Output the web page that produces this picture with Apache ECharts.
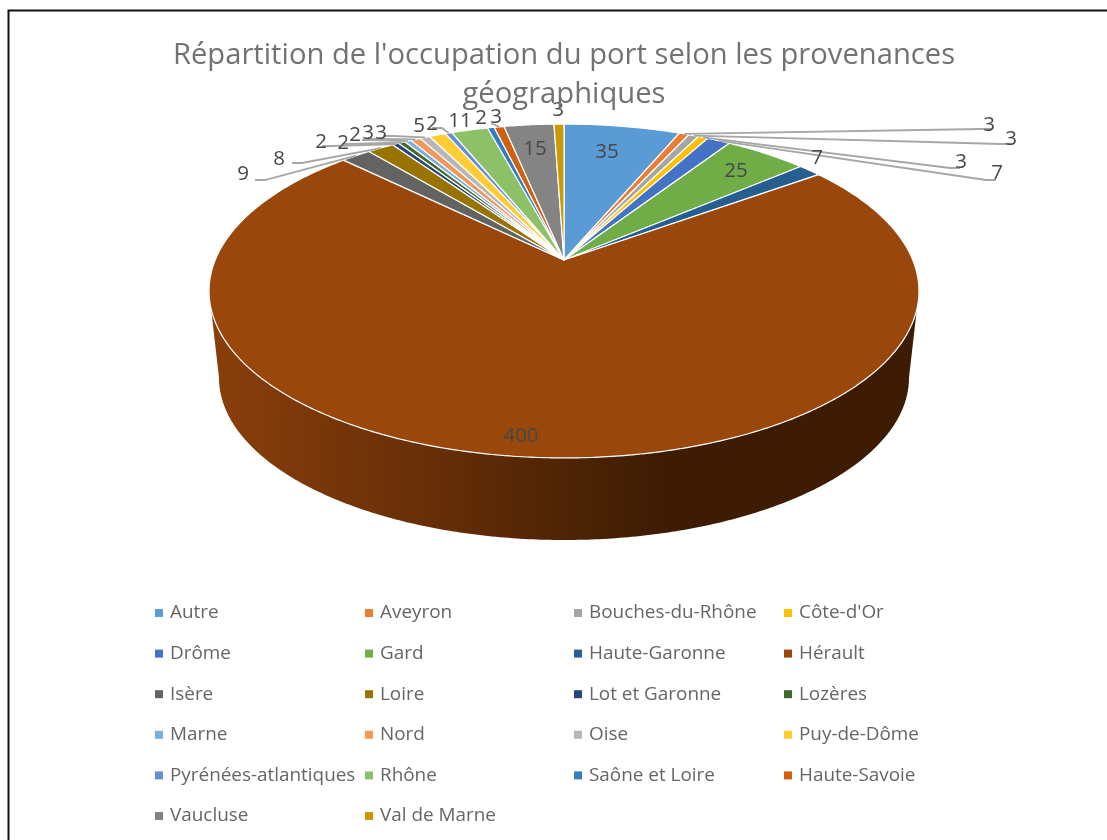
<!DOCTYPE html>
<html>
<head>
<meta charset="utf-8">
<title>Répartition de l'occupation du port</title>
<script src="https://cdn.jsdelivr.net/npm/echarts@6/dist/echarts.min.js"></script>
<style>
  html, body { margin: 0; padding: 0; background: #fff; }
  #main { width: 1107px; height: 840px; }
</style>
</head>
<body>
<div id="main"></div>
<script>
const categories = ["Autre", "Aveyron", "Bouches-du-Rhône", "Côte-d'Or", "Drôme", "Gard", "Haute-Garonne", "Hérault",
  "Isère", "Loire", "Lot et Garonne", "Lozères", "Marne", "Nord", "Oise", "Puy-de-Dôme",
  "Pyrénées-atlantiques", "Rhône", "Saône et Loire", "Haute-Savoie", "Vaucluse", "Val de Marne"];
const values = [35, 3, 3, 3, 7, 25, 7, 400, 9, 8, 2, 2, 2, 3, 3, 5, 2, 11, 2, 3, 15, 3];
const colors = ["#5B9BD5", "#ED7D31", "#A5A5A5", "#FFC000", "#4472C4", "#70AD47", "#255E91", "#9A470C",
  "#636363", "#997300", "#264478", "#43682B", "#7CAFDD", "#F1975A", "#B7B7B7", "#FFCD33",
  "#698ED0", "#8CC168", "#327DC2", "#D26012", "#848484", "#CC9A00"];

// label centre and leader elbow for each slice, same order as categories (no elbow = no leader)
const labelPlaces = [
  { x: 607, y: 151 }, { x: 989, y: 124, elbow: [982, 129] }, { x: 1011, y: 138, elbow: [1001, 144] },
  { x: 961, y: 161, elbow: [950, 168] }, { x: 997, y: 172, elbow: [986, 180] }, { x: 736, y: 170 },
  { x: 817, y: 157 }, { x: 521, y: 435 }, { x: 243, y: 173, elbow: [265, 180] }, { x: 279, y: 158, elbow: [302, 163] },
  { x: 321, y: 141, elbow: [332, 146] }, { x: 343, y: 142, elbow: [352, 144] }, { x: 355, y: 134, elbow: [372, 140] },
  { x: 368, y: 132, elbow: [380, 139] }, { x: 381, y: 132, elbow: [393, 136] }, { x: 419, y: 125 },
  { x: 432, y: 123, elbow: [442, 128] }, { x: 460, y: 120 }, { x: 481, y: 117 }, { x: 496, y: 116, elbow: [491, 123] },
  { x: 535, y: 148 }, { x: 558, y: 109 }
];

const legendColumns = [
  ["Autre", "Drôme", "Isère", "Marne", "Pyrénées-atlantiques", "Vaucluse"],
  ["Aveyron", "Gard", "Loire", "Nord", "Rhône", "Val de Marne"],
  ["Bouches-du-Rhône", "Haute-Garonne", "Lot et Garonne", "Oise", "Saône et Loire"],
  ["Côte-d'Or", "Hérault", "Lozères", "Puy-de-Dôme", "Haute-Savoie"]
];
const legendLeft = [155, 365, 574, 784];

const fontName = "'Open Sans', sans-serif";
const total = values.reduce((a, b) => a + b, 0);
const starts = [];
values.reduce((sum, v, i) => { starts[i] = sum; return sum + v; }, 0);

// perspective disc: apex (cx, cy), half axes rx / ry, tilt p
const topDisc = { cx: 564, cy: 260, rx: 348.8, ry: 161.2, p: 0.1856 };
const baseDisc = { cx: 564, cy: 347.6, rx: 339, ry: 156.7, p: 0.1856 };

function project(disc, angle) {
  const X = Math.sin(angle), Y = -Math.cos(angle);
  const w = 1 - disc.p * Y;
  return [disc.cx + disc.rx * X / w, disc.cy + disc.ry * Y / w];
}
function arc(disc, a0, a1) {
  const n = Math.max(2, Math.ceil(Math.abs(a1 - a0) / 0.01));
  const pts = [];
  for (let i = 0; i <= n; i++) pts.push(project(disc, a0 + (a1 - a0) * i / n));
  return pts;
}
function toAngle(v) { return v / total * Math.PI * 2; }

function renderSlice(params, api) {
  const start = api.value(0), v = api.value(1);
  const pts = [[topDisc.cx, topDisc.cy]].concat(arc(topDisc, toAngle(start), toAngle(start + v)));
  return {
    type: 'polygon',
    shape: { points: pts },
    style: { fill: api.style().fill, stroke: '#ffffff', lineWidth: 1.2, lineJoin: 'round' }
  };
}

// only the front of the rim shows, between the two tangent points of the disc
function renderWall() {
  const side = Math.asin(topDisc.p);
  const a0 = Math.PI / 2 + side, a1 = Math.PI * 1.5 - side;
  const pts = arc(topDisc, a0, a1).concat(arc(baseDisc, a1, a0));
  return {
    type: 'polygon',
    shape: { points: pts },
    style: {
      fill: new echarts.graphic.LinearGradient(0, 0, 1, 0, [
        { offset: 0, color: '#8A3F0B' },
        { offset: 0.26, color: '#6D3108' },
        { offset: 0.5, color: '#4F2405' },
        { offset: 0.64, color: '#3D1C03' },
        { offset: 1, color: '#3D1C03' }
      ])
    }
  };
}

function renderLabel(params, api) {
  const i = params.dataIndex;
  const place = labelPlaces[i];
  const children = [];
  if (place.elbow) {
    const rim = project(topDisc, toAngle(starts[i] + values[i] / 2));
    const pts = [place.elbow, rim];
    const dir = place.x < rim[0] ? -1 : 1;
    if (i !== 19) pts.unshift([place.elbow[0] + dir * 10, place.elbow[1]]);
    children.push({
      type: 'polyline',
      shape: { points: pts },
      style: { fill: 'none', stroke: '#A6A6A6', lineWidth: 1.8 }
    });
  }
  children.push({
    type: 'text',
    style: {
      text: String(api.value(1)),
      x: place.x, y: place.y + 1,
      align: 'center', verticalAlign: 'middle',
      font: "20.5px " + fontName,
      fill: '#484848'
    }
  });
  return { type: 'group', children: children };
}

const series = [{
  type: 'custom', name: 'wall', coordinateSystem: 'none', silent: true, z: 1,
  renderItem: renderWall, data: [0]
}];
categories.forEach((name, i) => {
  series.push({
    type: 'custom', name: name, coordinateSystem: 'none', z: 2,
    itemStyle: { color: colors[i] },
    renderItem: renderSlice,
    data: [[starts[i], values[i]]]
  });
});
series.push({
  type: 'custom', name: 'labels', coordinateSystem: 'none', silent: true, z: 5,
  renderItem: renderLabel,
  data: values.map((v, i) => [starts[i], v])
});

const legends = legendColumns.map((col, i) => ({
  data: col,
  orient: 'vertical',
  left: legendLeft[i],
  top: 602,
  icon: 'rect',
  itemWidth: 8,
  itemHeight: 8,
  itemGap: 18.6,
  padding: 0,
  selectedMode: false,
  textStyle: { fontFamily: fontName, fontSize: 18.9, color: '#666666', lineHeight: 22, padding: [0, 0, 0, 2] }
}));

const myChart = echarts.init(document.getElementById('main'));
myChart.setOption({
  animation: false,
  backgroundColor: '#ffffff',
  title: {
    text: "Répartition de l'occupation du port selon les provenances\ngéographiques",
    left: 559,
    textAlign: 'center',
    top: 31,
    textStyle: { fontFamily: fontName, fontSize: 29.2, fontWeight: 'normal', color: '#727272', lineHeight: 39 }
  },
  legend: legends,
  graphic: [
    { type: 'polyline', z: 10, shape: { points: [[8.5, 840], [8.5, 10.5], [1107, 10.5]] },
      style: { fill: 'none', stroke: '#111111', lineWidth: 2 } }
  ],
  series: series
});
</script>
</body>
</html>
